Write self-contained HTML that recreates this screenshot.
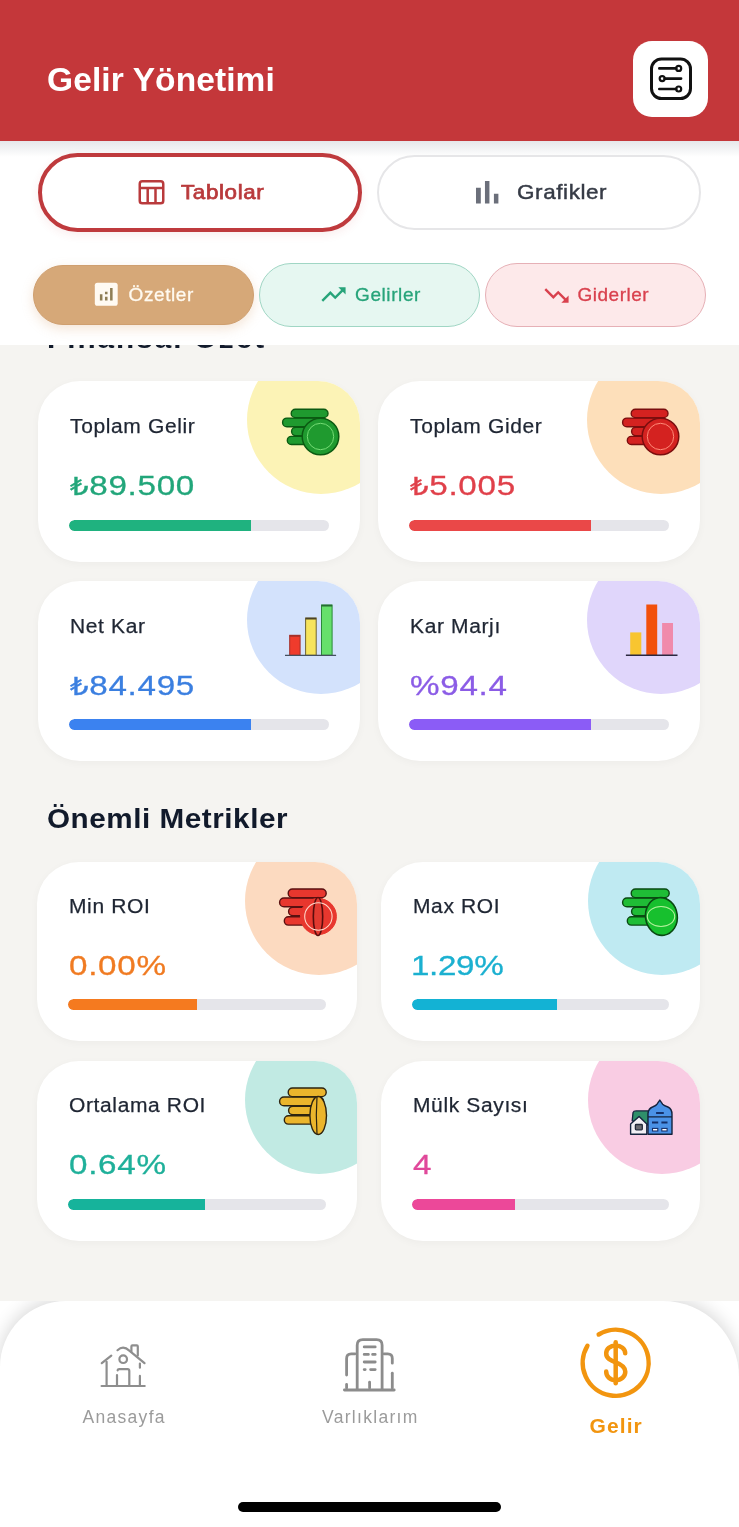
<!DOCTYPE html>
<html lang="tr"><head><meta charset="utf-8">
<title>Gelir Yönetimi</title>
<style>
*{margin:0;padding:0;box-sizing:border-box}
html,body{width:739px;height:1527px;overflow:hidden}
body{background:#f5f4f1;font-family:"Liberation Sans","DejaVu Sans",sans-serif;position:relative;color:#1f2937}
.a{position:absolute}
.t{position:absolute;white-space:nowrap;line-height:1}
/* header */
#hdr{left:0;top:0;width:739px;height:141px;background:#c4373a;z-index:5}
#title{left:47px;top:63.1px;font-size:33.5px;font-weight:700;color:#fff;letter-spacing:0.1px}
#setbtn{left:633px;top:41px;width:75px;height:76px;background:#fff;border-radius:19px}
/* top panel */
#panel{left:0;top:141px;width:739px;height:204px;background:#fff;z-index:4}
#panel .sh{left:0;top:0;width:739px;height:16px;background:linear-gradient(#e6e7ea,rgba(255,255,255,0))}
.pill{position:absolute;border-radius:60px;display:block}
#p1{left:38px;top:153px;width:324px;height:79px;border:4px solid #bf3a3d;background:#fff;box-shadow:0 3px 10px rgba(200,60,60,0.09)}
#p2{left:377px;top:155px;width:324px;height:75px;border:2px solid #e6e6e8;background:#fff}
#s1{left:33px;top:265px;width:221px;height:60px;background:#d6a878;border:1px solid #cf9f6f;box-shadow:0 4px 12px rgba(214,160,110,0.28)}
#s2{left:259px;top:263px;width:221px;height:63.5px;background:#e6f7f1;border:1.6px solid #a0d6c4}
#s3{left:485px;top:263px;width:221px;height:63.5px;background:#fde9ea;border:1.6px solid #e6b0b6}
.ptxt{font-size:21px}
/* headings */
.h2{font-size:28px;font-weight:700;color:#111a2b;letter-spacing:0.5px;transform:scaleX(1.06);transform-origin:0 0}
/* cards */
.card{position:absolute;background:#fff;border-radius:42px;overflow:hidden;box-shadow:0 2px 8px rgba(0,0,0,0.035)}
.card .circ{position:absolute;width:148px;height:148px;border-radius:50%;right:-34.6px;top:-34.6px}
.card .lbl{position:absolute;left:32.3px;top:35.3px;font-size:20px;color:#1f2633;letter-spacing:0.6px;transform:scaleX(1.05);transform-origin:0 0;-webkit-text-stroke:0.25px #1f2633;white-space:nowrap;line-height:1}
.card .val{position:absolute;left:31.5px;top:90.4px;font-size:28.5px;font-weight:400;letter-spacing:0.6px;white-space:nowrap;line-height:1;-webkit-text-stroke:0.3px currentColor;transform:scaleX(1.165);transform-origin:0 0}
.card .trk{position:absolute;left:31px;right:31px;bottom:30.6px;height:11px;border-radius:6px;background:#e5e5ea;overflow:hidden}
.card .fil{position:absolute;left:0;top:0;bottom:0;border-radius:6px 0 0 6px}
.card .ico{position:absolute}
.tl{font-size:25px}
.r2 .lbl{top:34px}
.r2 .val{top:89px}
/* nav */
#navwrap{left:0;top:1301px;width:739px;height:226px;background:#fff;overflow:hidden}
#nav{left:0;top:0;width:739px;height:260px;background:#fff;border-radius:66px 76px 0 0;box-shadow:0 -3px 18px rgba(0,0,0,0.16)}
.nl{font-size:17.5px;color:#9b9b9b;letter-spacing:1.3px}
#homeind{left:238px;top:1502px;width:263px;height:9.5px;border-radius:5px;background:#000}
</style></head>
<body>
<!-- header -->
<div id="hdr" class="a">
  <div id="title" class="t">Gelir Yönetimi</div>
  <div id="setbtn" class="a">
    <svg class="a" style="left:14px;top:14px" width="48" height="48" viewBox="0 0 48 48" fill="none" stroke="#111" stroke-linecap="round">
      <rect x="4.5" y="4" width="39" height="39.5" rx="10" stroke-width="3"/>
      <path d="M12.3 13.4H29.2M17.6 23.6H34.1M12.3 34H29.2" stroke-width="2.6"/>
      <circle cx="31.7" cy="13.4" r="2.5" stroke-width="2.2"/>
      <circle cx="15.2" cy="23.6" r="2.5" stroke-width="2.2"/>
      <circle cx="31.7" cy="34" r="2.5" stroke-width="2.2"/>
    </svg>
  </div>
</div>

<!-- Finansal Özet heading (mostly hidden under panel) -->
<div id="h2a" class="t h2" style="left:47px;top:324.8px;letter-spacing:1.9px">Finansal Özet</div>

<!-- top panel with tabs -->
<div id="panel" class="a"><div class="a sh"></div></div>
<div class="a" style="left:0;top:0;width:739px;height:345px;z-index:6">
  <div id="p1" class="pill"></div>
  <div id="p2" class="pill"></div>
  <div id="s1" class="pill"></div>
  <div id="s2" class="pill"></div>
  <div id="s3" class="pill"></div>
  <!-- Tablolar -->
  <svg class="a" style="left:130px;top:170px" width="40" height="40" viewBox="130 170 40 40" fill="none" stroke="#b93a3c" stroke-width="2.5"><rect x="139.75" y="181.35" width="23.5" height="21.9" rx="2.6"/><path d="M139.75 187.9H163.25M147.7 187.9V203.2M155.5 187.9V203.2"/></svg>
  <div id="tTab" class="t ptxt" style="left:180.5px;top:181.4px;color:#b93a3c;font-weight:400;font-size:21px;letter-spacing:0.6px;transform:scaleX(1.065);transform-origin:0 0;-webkit-text-stroke:0.75px #b93a3c">Tablolar</div>
  <!-- Grafikler -->
  <svg class="a" style="left:467.5px;top:173px" width="38.4" height="38.4" viewBox="0 0 24 24"><path fill="#6b6f7a" d="M5 9.2h3V19H5zM10.6 5h2.8v14h-2.8zm5.6 8H19v6h-2.8z"/></svg>
  <div id="tGraf" class="t ptxt" style="left:517px;top:181px;color:#363b46;font-size:21px;letter-spacing:0.55px;transform:scaleX(1.07);transform-origin:0 0;-webkit-text-stroke:0.45px #363b46">Grafikler</div>
  <!-- Özetler -->
  <svg class="a" style="left:91.4px;top:279.4px" width="30.5" height="30.5" viewBox="0 0 24 24"><rect x="3" y="3" width="18" height="18" rx="2" fill="#fffaf2"/><path fill="#8f7e55" d="M7 12h2v5H7zM11 14h2v3h-2zM11 10h2v2h-2zM15 7h2v10h-2z"/></svg>
  <div id="tOz" class="t" style="left:128.5px;top:285px;font-size:19px;color:#fffaf0;letter-spacing:0.6px;-webkit-text-stroke:0.3px #fffaf0">Özetler</div>
  <!-- Gelirler -->
  <svg class="a" style="left:318.6px;top:279.8px" width="29" height="29" viewBox="0 0 24 24"><path fill="#27a47a" d="M16 6l2.29 2.29-4.88 4.88-4-4L2 16.59 3.41 18l6-6 4 4 6.3-6.29L22 12V6z"/></svg>
  <div id="tGel" class="t" style="left:355px;top:285px;font-size:19px;color:#27a47a;letter-spacing:0.6px;-webkit-text-stroke:0.3px #27a47a">Gelirler</div>
  <!-- Giderler -->
  <svg class="a" style="left:541.5px;top:280.5px" width="29" height="29" viewBox="0 0 24 24"><path fill="#d9414e" d="M16 18l2.29-2.29-4.88-4.88-4 4L2 7.41 3.41 6l6 6 4-4 6.3 6.29L22 12v6z"/></svg>
  <div id="tGid" class="t" style="left:577.5px;top:285px;font-size:19px;color:#d9414e;letter-spacing:0.5px;-webkit-text-stroke:0.3px #d9414e">Giderler</div>
</div>

<!-- CARDS -->
<!-- row 1 -->
<div id="c1" class="card" style="left:38px;top:381px;width:322px;height:181px">
  <div class="circ" style="background:#fcf3b6"></div>
  <svg class="ico" style="right:18px;top:24px" width="62" height="54" viewBox="0 0 62 54"><g fill="#1f9a2f" stroke="#0b5a12" stroke-width="1.4">
<rect x="7.3" y="31.4" width="40" height="8.1" rx="4.05"/>
<rect x="11.6" y="22.3" width="36" height="8.3" rx="4.15"/>
<rect x="2.6" y="13.1" width="44" height="8.6" rx="4.3"/>
<rect x="11.2" y="4.2" width="36.8" height="8.4" rx="4.2"/>
</g><circle cx="40.5" cy="31.5" r="18.3" fill="#1f9a2f" stroke="#0b5a12" stroke-width="1.5"/><circle cx="40.5" cy="31.5" r="13.2" fill="none" stroke="#74dc74" stroke-width="1"/></svg>
  <div id="c1l" class="lbl">Toplam Gelir</div>
  <div id="c1v" class="val" style="color:#22a67a"><span class="tl">₺</span>89.500</div>
  <div class="trk"><div class="fil" style="width:70%;background:#1fb27f"></div></div>
</div>
<div id="c2" class="card" style="left:378px;top:381px;width:322px;height:181px">
  <div class="circ" style="background:#fddfba"></div>
  <svg class="ico" style="right:18px;top:24px" width="62" height="54" viewBox="0 0 62 54"><g fill="#d42220" stroke="#7a0e0e" stroke-width="1.4">
<rect x="7.3" y="31.4" width="40" height="8.1" rx="4.05"/>
<rect x="11.6" y="22.3" width="36" height="8.3" rx="4.15"/>
<rect x="2.6" y="13.1" width="44" height="8.6" rx="4.3"/>
<rect x="11.2" y="4.2" width="36.8" height="8.4" rx="4.2"/>
</g><circle cx="40.5" cy="31.5" r="18.3" fill="#d42220" stroke="#7a0e0e" stroke-width="1.5"/><circle cx="40.5" cy="31.5" r="13.2" fill="none" stroke="#ff8a78" stroke-width="1"/></svg>
  <div class="lbl">Toplam Gider</div>
  <div class="val" style="color:#e0404a"><span class="tl">₺</span>5.005</div>
  <div class="trk"><div class="fil" style="width:70%;background:#ea4848"></div></div>
</div>
<!-- row 2 -->
<div id="c3" class="card" style="left:38px;top:581px;width:322px;height:180px">
  <div class="circ" style="background:#d3e2fc"></div>
  <svg class="ico" style="right:16px;top:20px" width="64" height="60" viewBox="0 0 64 60"><rect x="9.7" y="34.3" width="10.4" height="20" fill="#ef3b2c" stroke="#a3302a" stroke-width="1"/>
<rect x="25.6" y="17" width="10.6" height="37.3" fill="#f6e45c" stroke="#6f6432" stroke-width="1"/>
<rect x="41.5" y="4" width="10.6" height="50.3" fill="#66e06c" stroke="#2a8a3a" stroke-width="1"/>
<path d="M9.7 34.9H20.1" stroke="#a3302a" stroke-width="1.6"/><path d="M25.6 17.6H36.2" stroke="#4a4228" stroke-width="1.8"/><path d="M41.5 4.6H52.1" stroke="#256b33" stroke-width="1.8"/><path d="M5 54.3H56.1" stroke="#44505e" stroke-width="1.2"/></svg>
  <div class="lbl">Net Kar</div>
  <div class="val" style="color:#3b7fe0"><span class="tl">₺</span>84.495</div>
  <div class="trk"><div class="fil" style="width:70%;background:#3b82f0"></div></div>
</div>
<div id="c4" class="card" style="left:378px;top:581px;width:322px;height:180px">
  <div class="circ" style="background:#e0d6fb"></div>
  <svg class="ico" style="right:16px;top:20px" width="64" height="60" viewBox="0 0 64 60"><rect x="10.2" y="31.4" width="11.1" height="22.9" fill="#f8c530"/>
<rect x="26.3" y="3.5" width="10.9" height="50.8" fill="#f2500c"/>
<rect x="42.1" y="22" width="10.9" height="32.3" fill="#f08aab"/>
<path d="M5.9 54.3H57.5" stroke="#2b2840" stroke-width="1.5"/></svg>
  <div class="lbl">Kar Marjı</div>
  <div class="val" style="color:#8b5ce6">%94.4</div>
  <div class="trk"><div class="fil" style="width:70%;background:#8b5cf6"></div></div>
</div>

<div id="h2b" class="t h2" style="left:47px;top:805px">Önemli Metrikler</div>

<!-- row 3 -->
<div id="c5" class="card r2" style="left:37px;top:862px;width:320px;height:179px">
  <div class="circ" style="background:#fcdac0;right:-35.8px"></div>
  <svg class="ico" style="right:18px;top:24px" width="62" height="54" viewBox="0 0 62 54"><g fill="#e8372e" stroke="#5a1010" stroke-width="1.4">
<rect x="7.3" y="30.8" width="40" height="8.3" rx="4.15"/>
<rect x="11.6" y="21.3" width="36" height="8.5" rx="4.25"/>
<rect x="2.6" y="12" width="44" height="8.8" rx="4.4"/>
<rect x="11.2" y="3" width="38" height="8.6" rx="4.3"/>
</g><circle cx="41.4" cy="30.5" r="18" fill="#e8372e" stroke="#e8372e" stroke-width="1"/><ellipse cx="41" cy="30.5" rx="4.7" ry="19" fill="#e23a30" stroke="#5a0d0d" stroke-width="1.6"/><circle cx="41.4" cy="30.5" r="13.7" fill="none" stroke="#ffd6c8" stroke-width="1.1"/></svg>
  <div class="lbl">Min ROI</div>
  <div class="val" style="color:#f07b22">0.00%</div>
  <div class="trk"><div class="fil" style="width:50%;background:#f57a1f"></div></div>
</div>
<div id="c6" class="card r2" style="left:381px;top:862px;width:319px;height:179px">
  <div class="circ" style="background:#bfeaf2;right:-35.8px"></div>
  <svg class="ico" style="right:18px;top:24px" width="62" height="54" viewBox="0 0 62 54"><g fill="#1fbd36" stroke="#0a4a12" stroke-width="1.4">
<rect x="7.3" y="30.8" width="40" height="8.3" rx="4.15"/>
<rect x="11.6" y="21.3" width="36" height="8.5" rx="4.25"/>
<rect x="2.6" y="12" width="44" height="8.8" rx="4.4"/>
<rect x="11.2" y="3" width="38" height="8.6" rx="4.3"/>
</g><ellipse cx="41.4" cy="30.5" rx="15.9" ry="18.9" transform="rotate(-8 41.4 30.5)" fill="#17c02e" stroke="#0a4a12" stroke-width="1.6"/><ellipse cx="41" cy="30.5" rx="13.7" ry="10" fill="none" stroke="#b4f29c" stroke-width="1.1"/></svg>
  <div class="lbl">Max ROI</div>
  <div class="val" style="color:#1bb0d0;left:30px;letter-spacing:-0.3px">1.29%</div>
  <div class="trk"><div class="fil" style="width:56.5%;background:#13b2d4"></div></div>
</div>
<!-- row 4 -->
<div id="c7" class="card r2" style="left:37px;top:1061px;width:320px;height:180px">
  <div class="circ" style="background:#c1eae3;right:-35.8px"></div>
  <svg class="ico" style="right:18px;top:24px" width="62" height="54" viewBox="0 0 62 54"><g fill="#ebb52c" stroke="#2e2410" stroke-width="1.4">
<rect x="7.3" y="30.8" width="40" height="8.3" rx="4.15"/>
<rect x="11.6" y="21.3" width="36" height="8.5" rx="4.25"/>
<rect x="2.6" y="12" width="44" height="8.8" rx="4.4"/>
<rect x="11.2" y="3" width="38" height="8.6" rx="4.3"/>
</g><ellipse cx="41.2" cy="30.5" rx="8.3" ry="19" fill="#ebb52c" stroke="#2e2410" stroke-width="1.4"/><path d="M40 11.8 Q38.6 30.5 40 49.2" fill="none" stroke="#2e2410" stroke-width="1.2"/></svg>
  <div class="lbl">Ortalama ROI</div>
  <div class="val" style="color:#1fb09a">0.64%</div>
  <div class="trk"><div class="fil" style="width:53%;background:#16b39b"></div></div>
</div>
<div id="c8" class="card r2" style="left:381px;top:1061px;width:319px;height:180px">
  <div class="circ" style="background:#f9cce3;right:-35.8px"></div>
  <svg class="ico" style="right:18px;top:24px" width="62" height="54" viewBox="0 0 62 54">
<path d="M12.2 35.9 L13 27.7 Q13.5 25.9 16.2 25.9 H28.5 V40 Z" fill="#2f8f6a" stroke="#14233d" stroke-width="1.3" stroke-linejoin="round"/>
<path d="M10.6 49.2 V39.1 L19.1 31.4 L26.8 39.1 V49.2 Z" fill="#f1eff4" stroke="#14233d" stroke-width="1.4" stroke-linejoin="round"/>
<rect x="15.4" y="39.5" width="6.9" height="5.3" rx="0.8" fill="#6a6a70" stroke="#222a3a" stroke-width="1.3"/>
<path d="M28 49.2 V28.5 Q28.5 23.5 32.5 22 Q36 20.5 37 19.2 L39.8 15.1 L42.6 19.2 Q44 20.5 47.9 22 Q52 23.8 52 29.4 V49.2 Z" fill="#4a92e6" stroke="#14233d" stroke-width="1.4" stroke-linejoin="round"/>
<path d="M28 31.8 H52" stroke="#14233d" stroke-width="1.3"/>
<path d="M36.1 28 H43.8" stroke="#14306a" stroke-width="2"/>
<path d="M32 37.5 H38.2 M41.4 37.5 H47.5" stroke="#14306a" stroke-width="1.8"/>
<rect x="32.5" y="43.4" width="5.3" height="2.6" fill="#fff" stroke="#14306a" stroke-width="1.1"/>
<rect x="41.8" y="43.4" width="5.3" height="2.6" fill="#fff" stroke="#14306a" stroke-width="1.1"/>
</svg>
  <div class="lbl">Mülk Sayısı</div>
  <div class="val" style="color:#e0489a">4</div>
  <div class="trk"><div class="fil" style="width:40%;background:#ec4899"></div></div>
</div>

<!-- bottom nav -->
<div id="navwrap" class="a">
  <div id="nav" class="a"></div>
</div>
<svg class="a" style="left:0;top:1300px;z-index:2" width="739" height="120" viewBox="0 1300 739 120" fill="none" stroke-linecap="round" stroke-linejoin="round">
  <g stroke="#8e8e8e" stroke-width="2.2">
    <path d="M101.6 1386H144.7"/>
    <path d="M106.6 1386V1361.8"/>
    <path d="M101.8 1363.2L111.3 1355.6"/>
    <path d="M117.5 1350.2Q123.2 1345 129.3 1350.6L144.5 1363.2"/>
    <path d="M131.4 1351.6V1346.4Q131.4 1345.4 132.4 1345.4H136.8Q137.8 1345.4 137.8 1346.4V1355.6"/>
    <path d="M139.9 1363.6V1367.7M139.9 1375.9V1386"/>
    <circle cx="123.2" cy="1359.2" r="3.8"/>
    <path d="M117 1386V1375M117.6 1370.3Q117.8 1369.2 119.2 1369.2H127.6Q129.3 1369.2 129.3 1371V1386"/>
  </g>
  <g stroke="#8c8c8c" stroke-width="2.8">
    <path d="M344.4 1390H394.2"/>
    <path d="M357.2 1389V1345.2Q357.2 1339.6 362.8 1339.6H376.5Q382.1 1339.6 382.1 1345.2V1389"/>
    <path d="M346.6 1375V1358.4Q346.6 1353.8 351.2 1353.8H355"/>
    <path d="M346.6 1384.5V1388"/>
    <path d="M384 1353.8H387.7Q392.3 1353.8 392.3 1358.4V1363.2"/>
    <path d="M392.3 1373.2V1388"/>
    <path d="M364.2 1346.9H375.2M364.2 1354.4H368.4M372.6 1354.4H375.2M364.2 1362H375.2M364.2 1369.6H365.2M370.6 1369.6H375.2"/>
    <path d="M369.6 1382.2V1388"/>
  </g>
  <g stroke="#f2950f" stroke-width="4.5">
    <path d="M598.7 1334.5A33 33 0 1 1 587.4 1345.8"/>
    <path d="M615.7 1342.2V1383.2"/>
    <path d="M625.2 1353.2C625.2 1348.6 621 1345.6 615.7 1345.6C610.2 1345.6 606.2 1348.8 606.2 1353.4C606.2 1358.4 610.4 1360.4 615.7 1362.4C621.4 1364.4 625.3 1366.8 625.3 1371.8C625.3 1376.6 621.2 1380.2 615.7 1380.2C610.2 1380.2 606.2 1376.6 606.2 1371.4"/>
  </g>
</svg>
<div id="nAna" class="t nl" style="left:82.5px;top:1409px">Anasayfa</div>
<div id="nVar" class="t nl" style="left:322px;top:1409px">Varlıklarım</div>
<div id="nGel" class="t" style="left:589.5px;top:1415.1px;font-size:21px;font-weight:700;color:#f2950f;letter-spacing:1.1px">Gelir</div>
<div id="homeind" class="a"></div>
</body></html>
